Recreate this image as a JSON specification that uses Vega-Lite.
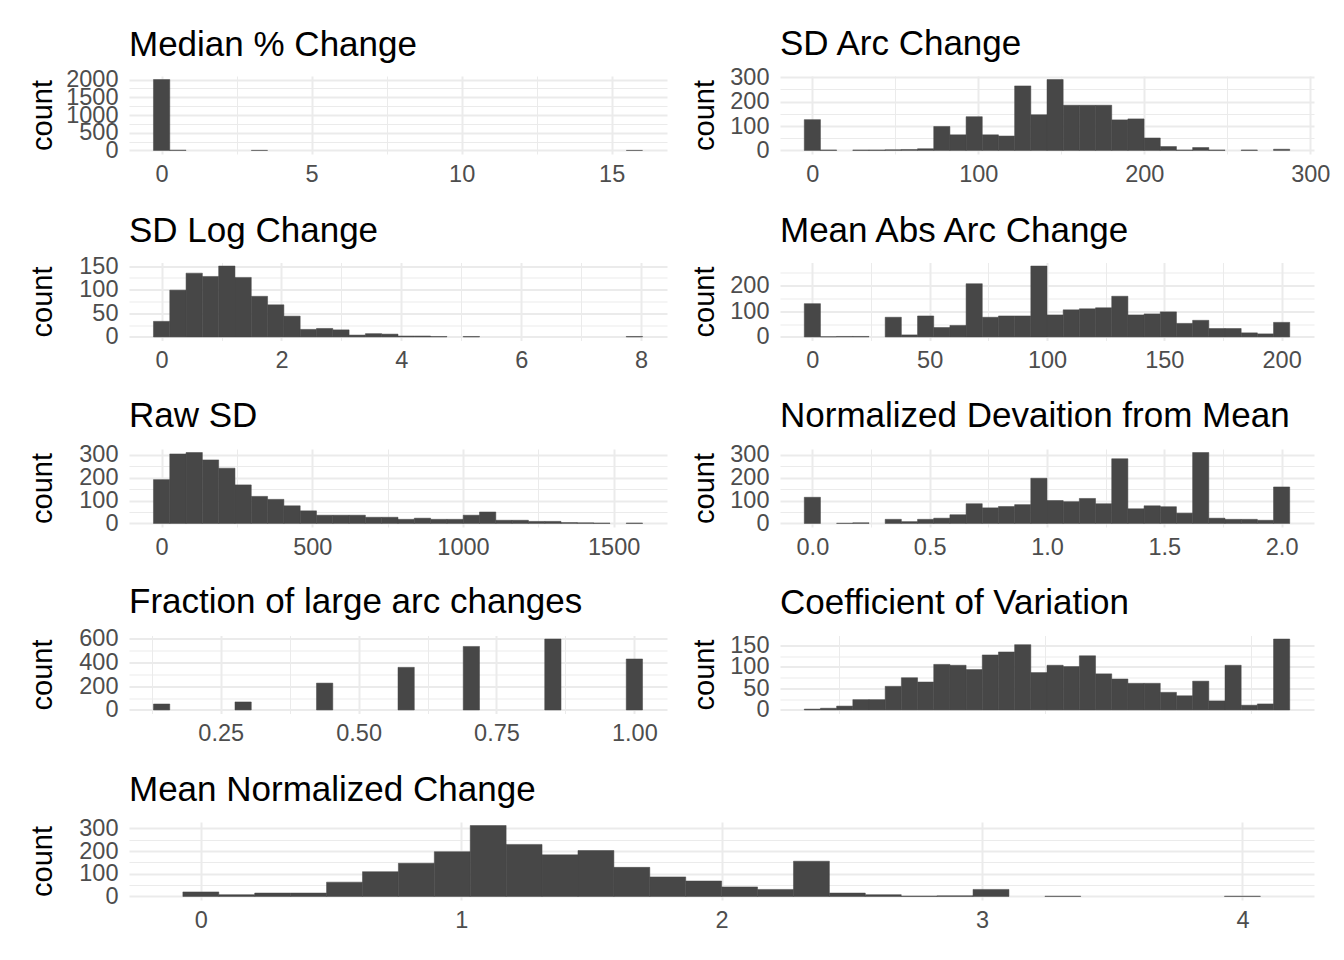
{
  "$schema": "https://vega.github.io/schema/vega-lite/v6.json",
  "background": "white",
  "padding": {"left": 28, "top": 27, "right": 5, "bottom": 5},
  "bounds": "flush",
  "spacing": 186.5,
  "datasets": {
    "p1": [
      {"lo": -0.2717, "hi": 0.2717, "n": 2000},
      {"lo": 0.2717, "hi": 0.8151, "n": 8},
      {"lo": 2.9887, "hi": 3.5321, "n": 2},
      {"lo": 15.487, "hi": 16.030, "n": 1}
    ],
    "p2": [
      {"lo": -4.875, "hi": 4.875, "n": 126},
      {"lo": 4.875, "hi": 14.625, "n": 2},
      {"lo": 24.375, "hi": 34.125, "n": 2},
      {"lo": 34.125, "hi": 43.875, "n": 2},
      {"lo": 43.875, "hi": 53.625, "n": 3},
      {"lo": 53.625, "hi": 63.375, "n": 4},
      {"lo": 63.375, "hi": 73.125, "n": 7},
      {"lo": 73.125, "hi": 82.875, "n": 98},
      {"lo": 82.875, "hi": 92.625, "n": 64},
      {"lo": 92.625, "hi": 102.375, "n": 138},
      {"lo": 102.375, "hi": 112.125, "n": 64},
      {"lo": 112.125, "hi": 121.875, "n": 59},
      {"lo": 121.875, "hi": 131.625, "n": 264},
      {"lo": 131.625, "hi": 141.375, "n": 146},
      {"lo": 141.375, "hi": 151.125, "n": 290},
      {"lo": 151.125, "hi": 160.875, "n": 185},
      {"lo": 160.875, "hi": 170.625, "n": 185},
      {"lo": 170.625, "hi": 180.375, "n": 185},
      {"lo": 180.375, "hi": 190.125, "n": 125},
      {"lo": 190.125, "hi": 199.875, "n": 129},
      {"lo": 199.875, "hi": 209.625, "n": 51},
      {"lo": 209.625, "hi": 219.375, "n": 16},
      {"lo": 219.375, "hi": 229.125, "n": 2},
      {"lo": 229.125, "hi": 238.875, "n": 12},
      {"lo": 238.875, "hi": 248.625, "n": 2},
      {"lo": 258.375, "hi": 268.125, "n": 2},
      {"lo": 277.875, "hi": 287.625, "n": 5}
    ],
    "p3": [
      {"lo": -0.136, "hi": 0.136, "n": 33},
      {"lo": 0.136, "hi": 0.408, "n": 99},
      {"lo": 0.408, "hi": 0.680, "n": 135},
      {"lo": 0.680, "hi": 0.952, "n": 128},
      {"lo": 0.952, "hi": 1.224, "n": 150},
      {"lo": 1.224, "hi": 1.496, "n": 126},
      {"lo": 1.496, "hi": 1.768, "n": 86},
      {"lo": 1.768, "hi": 2.040, "n": 68},
      {"lo": 2.040, "hi": 2.312, "n": 44},
      {"lo": 2.312, "hi": 2.584, "n": 16},
      {"lo": 2.584, "hi": 2.856, "n": 18},
      {"lo": 2.856, "hi": 3.128, "n": 15},
      {"lo": 3.128, "hi": 3.400, "n": 4},
      {"lo": 3.400, "hi": 3.672, "n": 7},
      {"lo": 3.672, "hi": 3.944, "n": 6},
      {"lo": 3.944, "hi": 4.216, "n": 2},
      {"lo": 4.216, "hi": 4.488, "n": 2},
      {"lo": 4.488, "hi": 4.760, "n": 1},
      {"lo": 5.032, "hi": 5.304, "n": 1},
      {"lo": 7.752, "hi": 8.024, "n": 1}
    ],
    "p4": [
      {"lo": -3.448, "hi": 3.448, "n": 130},
      {"lo": 3.448, "hi": 10.345, "n": 1},
      {"lo": 10.345, "hi": 17.242, "n": 2},
      {"lo": 17.242, "hi": 24.139, "n": 2},
      {"lo": 31.036, "hi": 37.933, "n": 77},
      {"lo": 37.933, "hi": 44.830, "n": 8},
      {"lo": 44.830, "hi": 51.727, "n": 82},
      {"lo": 51.727, "hi": 58.624, "n": 37},
      {"lo": 58.624, "hi": 65.521, "n": 45},
      {"lo": 65.521, "hi": 72.418, "n": 208},
      {"lo": 72.418, "hi": 79.315, "n": 77},
      {"lo": 79.315, "hi": 86.212, "n": 82},
      {"lo": 86.212, "hi": 93.109, "n": 82},
      {"lo": 93.109, "hi": 100.006, "n": 277},
      {"lo": 100.006, "hi": 106.903, "n": 86},
      {"lo": 106.903, "hi": 113.800, "n": 106},
      {"lo": 113.800, "hi": 120.697, "n": 110},
      {"lo": 120.697, "hi": 127.594, "n": 114},
      {"lo": 127.594, "hi": 134.491, "n": 159},
      {"lo": 134.491, "hi": 141.388, "n": 86},
      {"lo": 141.388, "hi": 148.285, "n": 90},
      {"lo": 148.285, "hi": 155.182, "n": 98},
      {"lo": 155.182, "hi": 162.079, "n": 53},
      {"lo": 162.079, "hi": 168.976, "n": 65},
      {"lo": 168.976, "hi": 175.873, "n": 33},
      {"lo": 175.873, "hi": 182.770, "n": 33},
      {"lo": 182.770, "hi": 189.667, "n": 16},
      {"lo": 189.667, "hi": 196.564, "n": 12},
      {"lo": 196.564, "hi": 203.461, "n": 57}
    ],
    "p5": [
      {"lo": -27.05, "hi": 27.05, "n": 191},
      {"lo": 27.05, "hi": 81.15, "n": 303},
      {"lo": 81.15, "hi": 135.25, "n": 309},
      {"lo": 135.25, "hi": 189.35, "n": 277},
      {"lo": 189.35, "hi": 243.45, "n": 241},
      {"lo": 243.45, "hi": 297.55, "n": 168},
      {"lo": 297.55, "hi": 351.65, "n": 118},
      {"lo": 351.65, "hi": 405.75, "n": 105},
      {"lo": 405.75, "hi": 459.85, "n": 77},
      {"lo": 459.85, "hi": 513.95, "n": 55},
      {"lo": 513.95, "hi": 568.05, "n": 36},
      {"lo": 568.05, "hi": 622.15, "n": 36},
      {"lo": 622.15, "hi": 676.25, "n": 36},
      {"lo": 676.25, "hi": 730.35, "n": 27},
      {"lo": 730.35, "hi": 784.45, "n": 27},
      {"lo": 784.45, "hi": 838.55, "n": 18},
      {"lo": 838.55, "hi": 892.65, "n": 23},
      {"lo": 892.65, "hi": 946.75, "n": 18},
      {"lo": 946.75, "hi": 1000.85, "n": 18},
      {"lo": 1000.85, "hi": 1054.95, "n": 36},
      {"lo": 1054.95, "hi": 1109.05, "n": 50},
      {"lo": 1109.05, "hi": 1163.15, "n": 14},
      {"lo": 1163.15, "hi": 1217.25, "n": 14},
      {"lo": 1217.25, "hi": 1271.35, "n": 9},
      {"lo": 1271.35, "hi": 1325.45, "n": 9},
      {"lo": 1325.45, "hi": 1379.55, "n": 4},
      {"lo": 1379.55, "hi": 1433.65, "n": 3},
      {"lo": 1433.65, "hi": 1487.75, "n": 2},
      {"lo": 1541.85, "hi": 1595.95, "n": 2}
    ],
    "p6": [
      {"lo": -0.0345, "hi": 0.0345, "n": 114},
      {"lo": 0.1034, "hi": 0.1724, "n": 1},
      {"lo": 0.1724, "hi": 0.2414, "n": 3},
      {"lo": 0.3103, "hi": 0.3793, "n": 18},
      {"lo": 0.3793, "hi": 0.4483, "n": 8},
      {"lo": 0.4483, "hi": 0.5172, "n": 18},
      {"lo": 0.5172, "hi": 0.5862, "n": 23},
      {"lo": 0.5862, "hi": 0.6552, "n": 38},
      {"lo": 0.6552, "hi": 0.7241, "n": 86},
      {"lo": 0.7241, "hi": 0.7931, "n": 68},
      {"lo": 0.7931, "hi": 0.8621, "n": 74},
      {"lo": 0.8621, "hi": 0.9310, "n": 82},
      {"lo": 0.9310, "hi": 1.0000, "n": 197},
      {"lo": 1.0000, "hi": 1.0690, "n": 100},
      {"lo": 1.0690, "hi": 1.1379, "n": 95},
      {"lo": 1.1379, "hi": 1.2069, "n": 109},
      {"lo": 1.2069, "hi": 1.2759, "n": 86},
      {"lo": 1.2759, "hi": 1.3448, "n": 282},
      {"lo": 1.3448, "hi": 1.4138, "n": 64},
      {"lo": 1.4138, "hi": 1.4828, "n": 77},
      {"lo": 1.4828, "hi": 1.5517, "n": 73},
      {"lo": 1.5517, "hi": 1.6207, "n": 45},
      {"lo": 1.6207, "hi": 1.6897, "n": 309},
      {"lo": 1.6897, "hi": 1.7586, "n": 23},
      {"lo": 1.7586, "hi": 1.8276, "n": 18},
      {"lo": 1.8276, "hi": 1.8966, "n": 18},
      {"lo": 1.8966, "hi": 1.9655, "n": 14},
      {"lo": 1.9655, "hi": 2.0345, "n": 159}
    ],
    "p7": [
      {"lo": 0.128079, "hi": 0.157635, "n": 50},
      {"lo": 0.275863, "hi": 0.305419, "n": 67},
      {"lo": 0.423646, "hi": 0.453202, "n": 225},
      {"lo": 0.571429, "hi": 0.600985, "n": 357},
      {"lo": 0.689655, "hi": 0.719212, "n": 532},
      {"lo": 0.837438, "hi": 0.866995, "n": 594},
      {"lo": 0.985222, "hi": 1.014778, "n": 427}
    ],
    "p8": [
      {"lo": 0.3338, "hi": 0.4122, "n": 2},
      {"lo": 0.4122, "hi": 0.4906, "n": 4},
      {"lo": 0.4906, "hi": 0.5690, "n": 9},
      {"lo": 0.5690, "hi": 0.6474, "n": 24},
      {"lo": 0.6474, "hi": 0.7258, "n": 24},
      {"lo": 0.7258, "hi": 0.8042, "n": 55},
      {"lo": 0.8042, "hi": 0.8826, "n": 75},
      {"lo": 0.8826, "hi": 0.9610, "n": 65},
      {"lo": 0.9610, "hi": 1.0394, "n": 106},
      {"lo": 1.0394, "hi": 1.1178, "n": 104},
      {"lo": 1.1178, "hi": 1.1962, "n": 94},
      {"lo": 1.1962, "hi": 1.2746, "n": 128},
      {"lo": 1.2746, "hi": 1.3530, "n": 135},
      {"lo": 1.3530, "hi": 1.4314, "n": 152},
      {"lo": 1.4314, "hi": 1.5098, "n": 87},
      {"lo": 1.5098, "hi": 1.5882, "n": 104},
      {"lo": 1.5882, "hi": 1.6666, "n": 101},
      {"lo": 1.6666, "hi": 1.7450, "n": 126},
      {"lo": 1.7450, "hi": 1.8234, "n": 84},
      {"lo": 1.8234, "hi": 1.9018, "n": 72},
      {"lo": 1.9018, "hi": 1.9802, "n": 62},
      {"lo": 1.9802, "hi": 2.0586, "n": 62},
      {"lo": 2.0586, "hi": 2.1370, "n": 41},
      {"lo": 2.1370, "hi": 2.2154, "n": 33},
      {"lo": 2.2154, "hi": 2.2938, "n": 67},
      {"lo": 2.2938, "hi": 2.3722, "n": 21},
      {"lo": 2.3722, "hi": 2.4506, "n": 104},
      {"lo": 2.4506, "hi": 2.5290, "n": 11},
      {"lo": 2.5290, "hi": 2.6074, "n": 14},
      {"lo": 2.6074, "hi": 2.6858, "n": 165}
    ],
    "p9": [
      {"lo": -0.0690, "hi": 0.0690, "n": 20},
      {"lo": 0.0690, "hi": 0.2069, "n": 8},
      {"lo": 0.2069, "hi": 0.3448, "n": 15},
      {"lo": 0.3448, "hi": 0.4828, "n": 15},
      {"lo": 0.4828, "hi": 0.6207, "n": 63},
      {"lo": 0.6207, "hi": 0.7586, "n": 109},
      {"lo": 0.7586, "hi": 0.8966, "n": 146},
      {"lo": 0.8966, "hi": 1.0345, "n": 197},
      {"lo": 1.0345, "hi": 1.1724, "n": 312},
      {"lo": 1.1724, "hi": 1.3103, "n": 229},
      {"lo": 1.3103, "hi": 1.4483, "n": 183},
      {"lo": 1.4483, "hi": 1.5862, "n": 202},
      {"lo": 1.5862, "hi": 1.7241, "n": 128},
      {"lo": 1.7241, "hi": 1.8621, "n": 86},
      {"lo": 1.8621, "hi": 2.0000, "n": 68},
      {"lo": 2.0000, "hi": 2.1379, "n": 42},
      {"lo": 2.1379, "hi": 2.2759, "n": 31},
      {"lo": 2.2759, "hi": 2.4138, "n": 155},
      {"lo": 2.4138, "hi": 2.5517, "n": 15},
      {"lo": 2.5517, "hi": 2.6897, "n": 8},
      {"lo": 2.6897, "hi": 2.8276, "n": 2},
      {"lo": 2.8276, "hi": 2.9655, "n": 3},
      {"lo": 2.9655, "hi": 3.1034, "n": 31},
      {"lo": 3.2414, "hi": 3.3793, "n": 1},
      {"lo": 3.9310, "hi": 4.0690, "n": 1}
    ]
  },
  "config": {
    "font": "Liberation Sans",
    "view": {"stroke": null},
    "bar": {"color": "#474747", "stroke": "#474747", "strokeWidth": 0.5},
    "title": {"fontSize": 35, "font": "Liberation Sans", "fontWeight": "normal", "anchor": "start", "frame": "group", "color": "#000000", "baseline": "alphabetic", "offset": 5},
    "axis": {"domain": false, "ticks": false, "labelFont": "Liberation Sans", "labelFontSize": 23.5, "labelColor": "#4D4D4D", "titleFont": "Liberation Sans", "titleFontSize": 29, "titleFontWeight": "normal", "titleColor": "#000000", "gridColor": "#EBEBEB", "labelOverlap": false, "labelFlush": false, "labelBound": false},
    "axisX": {"labelPadding": 8},
    "axisY": {"labelPadding": 11, "titleX": -87, "titleY": 39, "titleAngle": 270, "titleAlign": "center", "titleBaseline": "middle"}
  },
  "vconcat": [
    {
      "bounds": "flush",
      "spacing": 113,
      "hconcat": [
        {
          "width": 538, "height": 78, "title": {"text": "Median % Change"},
          "data": {"name": "p1"},
          "mark": {"type": "bar"},
          "encoding": {
            "x": {"field": "lo", "type": "quantitative", "title": null,
              "scale": {"domain": [-1.0868, 16.845], "nice": false, "zero": false},
              "axis": {"values": [0, 2.5, 5, 7.5, 10, 12.5, 15], "format": "d",
                "labelExpr": "datum.value % 5 !== 0 ? '' : datum.label",
                "gridWidth": {"condition": {"test": "datum.value % 5 !== 0", "value": 1}, "value": 2}}},
            "x2": {"field": "hi"},
            "y": {"field": "n", "type": "quantitative", "title": "count",
              "scale": {"domain": [-100, 2100], "nice": false, "zero": false},
              "axis": {"values": [0, 250, 500, 750, 1000, 1250, 1500, 1750, 2000], "format": "d",
                "labelExpr": "datum.value % 500 !== 0 ? '' : datum.label",
                "gridWidth": {"condition": {"test": "datum.value % 500 !== 0", "value": 1}, "value": 2}}},
            "y2": {"datum": 0}
          }
        },
        {
          "width": 534, "height": 78, "title": {"text": "SD Arc Change", "dy": 2},
          "data": {"name": "p2"},
          "mark": {"type": "bar"},
          "encoding": {
            "x": {"field": "lo", "type": "quantitative", "title": null,
              "scale": {"domain": [-19.5, 302.25], "nice": false, "zero": false},
              "axis": {"values": [0, 50, 100, 150, 200, 250, 300], "format": "d",
                "labelExpr": "datum.value % 100 !== 0 ? '' : datum.label",
                "gridWidth": {"condition": {"test": "datum.value % 100 !== 0", "value": 1}, "value": 2}}},
            "x2": {"field": "hi"},
            "y": {"field": "n", "type": "quantitative", "title": "count",
              "scale": {"domain": [-14.5, 304.5], "nice": false, "zero": false},
              "axis": {"values": [0, 50, 100, 150, 200, 250, 300], "format": "d", "titleX": -76,
                "labelExpr": "datum.value % 100 !== 0 ? '' : datum.label",
                "gridWidth": {"condition": {"test": "datum.value % 100 !== 0", "value": 1}, "value": 2}}},
            "y2": {"datum": 0}
          }
        }
      ]
    },
    {
      "bounds": "flush",
      "spacing": 113,
      "hconcat": [
        {
          "width": 538, "height": 78, "title": {"text": "SD Log Change"},
          "data": {"name": "p3"},
          "mark": {"type": "bar"},
          "encoding": {
            "x": {"field": "lo", "type": "quantitative", "title": null,
              "scale": {"domain": [-0.544, 8.432], "nice": false, "zero": false},
              "axis": {"values": [0, 1, 2, 3, 4, 5, 6, 7, 8], "format": "d",
                "labelExpr": "datum.value % 2 !== 0 ? '' : datum.label",
                "gridWidth": {"condition": {"test": "datum.value % 2 !== 0", "value": 1}, "value": 2}}},
            "x2": {"field": "hi"},
            "y": {"field": "n", "type": "quantitative", "title": "count",
              "scale": {"domain": [-7.5, 157.5], "nice": false, "zero": false},
              "axis": {"values": [0, 25, 50, 75, 100, 125, 150], "format": "d",
                "labelExpr": "datum.value % 50 !== 0 ? '' : datum.label",
                "gridWidth": {"condition": {"test": "datum.value % 50 !== 0", "value": 1}, "value": 2}}},
            "y2": {"datum": 0}
          }
        },
        {
          "width": 534, "height": 78, "title": {"text": "Mean Abs Arc Change", "dy": -7},
          "data": {"name": "p4"},
          "mark": {"type": "bar"},
          "encoding": {
            "x": {"field": "lo", "type": "quantitative", "title": null,
              "scale": {"domain": [-13.794, 213.807], "nice": false, "zero": false},
              "axis": {"values": [0, 25, 50, 75, 100, 125, 150, 175, 200], "format": "d",
                "labelExpr": "datum.value % 50 !== 0 ? '' : datum.label",
                "gridWidth": {"condition": {"test": "datum.value % 50 !== 0", "value": 1}, "value": 2}}},
            "x2": {"field": "hi"},
            "y": {"field": "n", "type": "quantitative", "title": "count",
              "scale": {"domain": [-13.85, 290.85], "nice": false, "zero": false},
              "axis": {"values": [0, 50, 100, 150, 200, 250], "format": "d", "titleX": -76,
                "labelExpr": "datum.value % 100 !== 0 ? '' : datum.label",
                "gridWidth": {"condition": {"test": "datum.value % 100 !== 0", "value": 1}, "value": 2}}},
            "y2": {"datum": 0}
          }
        }
      ]
    },
    {
      "bounds": "flush",
      "spacing": 113,
      "hconcat": [
        {
          "width": 538, "height": 78, "title": {"text": "Raw SD", "dy": -4},
          "data": {"name": "p5"},
          "mark": {"type": "bar"},
          "encoding": {
            "x": {"field": "lo", "type": "quantitative", "title": null,
              "scale": {"domain": [-108.2, 1677.1], "nice": false, "zero": false},
              "axis": {"values": [0, 250, 500, 750, 1000, 1250, 1500], "format": "d",
                "labelExpr": "datum.value % 500 !== 0 ? '' : datum.label",
                "gridWidth": {"condition": {"test": "datum.value % 500 !== 0", "value": 1}, "value": 2}}},
            "x2": {"field": "hi"},
            "y": {"field": "n", "type": "quantitative", "title": "count",
              "scale": {"domain": [-15.45, 324.45], "nice": false, "zero": false},
              "axis": {"values": [0, 50, 100, 150, 200, 250, 300], "format": "d",
                "labelExpr": "datum.value % 100 !== 0 ? '' : datum.label",
                "gridWidth": {"condition": {"test": "datum.value % 100 !== 0", "value": 1}, "value": 2}}},
            "y2": {"datum": 0}
          }
        },
        {
          "width": 534, "height": 78, "title": {"text": "Normalized Devaition from Mean", "dy": -4},
          "data": {"name": "p6"},
          "mark": {"type": "bar"},
          "encoding": {
            "x": {"field": "lo", "type": "quantitative", "title": null,
              "scale": {"domain": [-0.13794, 2.13807], "nice": false, "zero": false},
              "axis": {"values": [0, 0.25, 0.5, 0.75, 1, 1.25, 1.5, 1.75, 2], "format": ".1f",
                "labelExpr": "datum.value % 0.5 !== 0 ? '' : datum.label",
                "gridWidth": {"condition": {"test": "datum.value % 0.5 !== 0", "value": 1}, "value": 2}}},
            "x2": {"field": "hi"},
            "y": {"field": "n", "type": "quantitative", "title": "count",
              "scale": {"domain": [-15.45, 324.45], "nice": false, "zero": false},
              "axis": {"values": [0, 50, 100, 150, 200, 250, 300], "format": "d", "titleX": -76,
                "labelExpr": "datum.value % 100 !== 0 ? '' : datum.label",
                "gridWidth": {"condition": {"test": "datum.value % 100 !== 0", "value": 1}, "value": 2}}},
            "y2": {"datum": 0}
          }
        }
      ]
    },
    {
      "bounds": "flush",
      "spacing": 113,
      "hconcat": [
        {
          "width": 538, "height": 78, "title": {"text": "Fraction of large arc changes", "dy": -1},
          "data": {"name": "p7"},
          "mark": {"type": "bar"},
          "encoding": {
            "x": {"field": "lo", "type": "quantitative", "title": null,
              "scale": {"domain": [0.083743, 1.059123], "nice": false, "zero": false},
              "axis": {"values": [0.125, 0.25, 0.375, 0.5, 0.625, 0.75, 0.875, 1], "format": ".2f",
                "labelExpr": "datum.value % 0.25 !== 0 ? '' : datum.label",
                "gridWidth": {"condition": {"test": "datum.value % 0.25 !== 0", "value": 1}, "value": 2}}},
            "x2": {"field": "hi"},
            "y": {"field": "n", "type": "quantitative", "title": "count",
              "scale": {"domain": [-29.7, 623.7], "nice": false, "zero": false},
              "axis": {"values": [0, 100, 200, 300, 400, 500, 600], "format": "d",
                "labelExpr": "datum.value % 200 !== 0 ? '' : datum.label",
                "gridWidth": {"condition": {"test": "datum.value % 200 !== 0", "value": 1}, "value": 2}}},
            "y2": {"datum": 0}
          }
        },
        {
          "width": 534, "height": 78, "title": {"text": "Coefficient of Variation", "dy": -7},
          "data": {"name": "p8"},
          "mark": {"type": "bar"},
          "encoding": {
            "x": {"field": "lo", "type": "quantitative", "title": null,
              "scale": {"domain": [0.2162, 2.8034], "nice": false, "zero": false},
              "axis": {"values": [0.5, 1, 1.5, 2, 2.5], "format": "d",
                "labelExpr": "datum.value % 1 !== 0 ? '' : datum.label",
                "gridWidth": {"condition": {"test": "datum.value % 1 !== 0", "value": 1}, "value": 2}}},
            "x2": {"field": "hi"},
            "y": {"field": "n", "type": "quantitative", "title": "count",
              "scale": {"domain": [-8.25, 173.25], "nice": false, "zero": false},
              "axis": {"values": [0, 25, 50, 75, 100, 125, 150], "format": "d", "titleX": -76,
                "labelExpr": "datum.value % 50 !== 0 ? '' : datum.label",
                "gridWidth": {"condition": {"test": "datum.value % 50 !== 0", "value": 1}, "value": 2}}},
            "y2": {"datum": 0}
          }
        }
      ]
    },
    {
      "width": 1185, "height": 78, "title": {"text": "Mean Normalized Change", "dy": -3},
      "data": {"name": "p9"},
      "mark": {"type": "bar"},
      "encoding": {
        "x": {"field": "lo", "type": "quantitative", "title": null,
          "scale": {"domain": [-0.2759, 4.2749], "nice": false, "zero": false},
          "axis": {"values": [0, 0.5, 1, 1.5, 2, 2.5, 3, 3.5, 4], "format": "d",
            "labelExpr": "datum.value % 1 !== 0 ? '' : datum.label",
            "gridWidth": {"condition": {"test": "datum.value % 1 !== 0", "value": 1}, "value": 2}}},
        "x2": {"field": "hi"},
        "y": {"field": "n", "type": "quantitative", "title": "count",
          "scale": {"domain": [-15.6, 327.6], "nice": false, "zero": false},
          "axis": {"values": [0, 50, 100, 150, 200, 250, 300], "format": "d",
            "labelExpr": "datum.value % 100 !== 0 ? '' : datum.label",
            "gridWidth": {"condition": {"test": "datum.value % 100 !== 0", "value": 1}, "value": 2}}},
        "y2": {"datum": 0}
      }
    }
  ]
}
